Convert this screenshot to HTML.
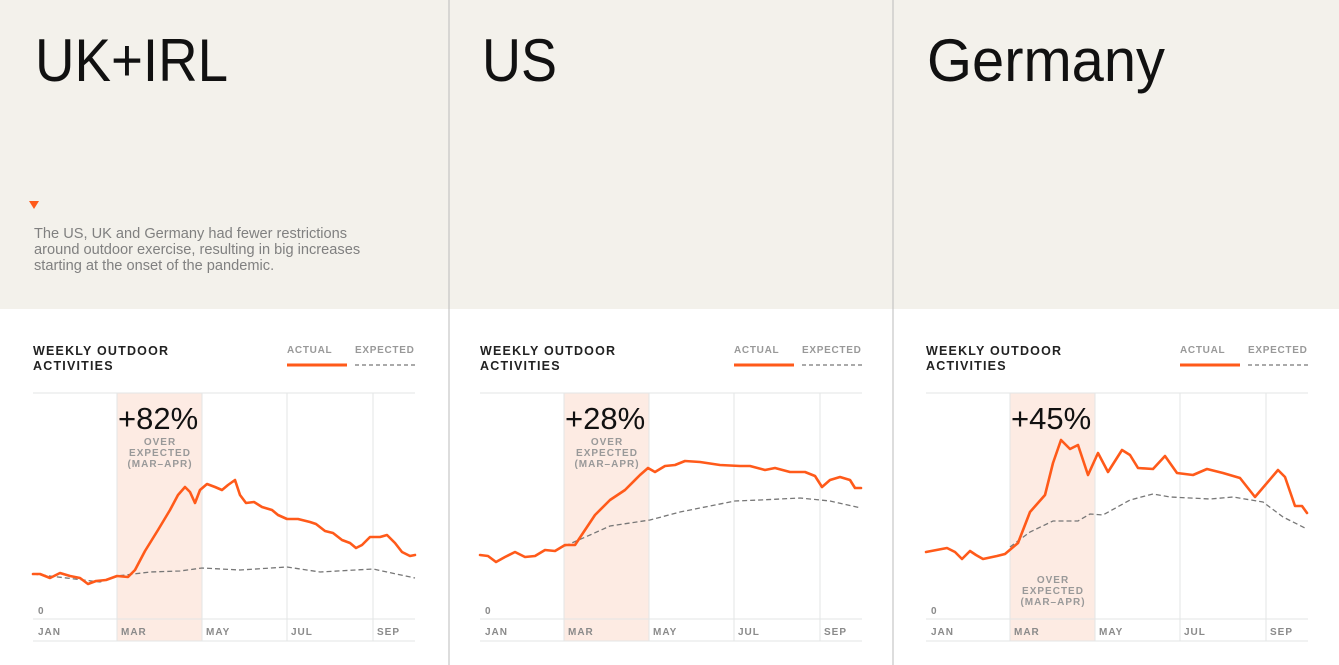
<!DOCTYPE html>
<html><head><meta charset="utf-8"><style>
html,body{margin:0;padding:0;background:#fff;}
svg{display:block;font-family:"Liberation Sans",sans-serif;}
.t{font-size:60px;fill:#111;}
.d{font-size:14.6px;fill:#808080;}
.h{font-size:12.5px;font-weight:bold;fill:#222;letter-spacing:1.2px;}
.lg{font-size:10px;fill:#999;letter-spacing:0.7px;font-weight:bold;}
.ax{font-size:10px;fill:#8a8a8a;letter-spacing:1px;font-weight:bold;}
.p{font-size:31px;fill:#111;}
.s{font-size:10px;fill:#999;letter-spacing:1px;font-weight:bold;}
.g{stroke:#e3e6e6;stroke-width:1;}
.a{fill:none;stroke:#ff5a1a;stroke-width:2.6;stroke-linejoin:round;stroke-linecap:round;}
.e{fill:none;stroke:#777;stroke-width:1.3;stroke-dasharray:5 3;}
</style></head><body>
<svg width="1339" height="665" viewBox="0 0 1339 665">
<rect x="0" y="0" width="1339" height="309" fill="#f3f1eb"/>
<line x1="449" y1="0" x2="449" y2="665" stroke="#bbb"/>
<line x1="893" y1="0" x2="893" y2="665" stroke="#bbb"/>
<text class="t" x="35" y="81" textLength="193" lengthAdjust="spacingAndGlyphs">UK+IRL</text>
<text class="t" x="482" y="81" textLength="75" lengthAdjust="spacingAndGlyphs">US</text>
<text class="t" x="927" y="81" textLength="238" lengthAdjust="spacingAndGlyphs">Germany</text>
<polygon points="29,201 39,201 34,209" fill="#ff5a1a"/>
<text class="d" x="34" y="238">The US, UK and Germany had fewer restrictions</text>
<text class="d" x="34" y="254">around outdoor exercise, resulting in big increases</text>
<text class="d" x="34" y="270">starting at the onset of the pandemic.</text>

<g id="p1">
<rect x="117" y="393" width="85" height="248" fill="#fdebe3"/>
<line class="g" x1="33" y1="393" x2="415" y2="393"/>
<line class="g" x1="33" y1="619" x2="415" y2="619"/>
<line class="g" x1="33" y1="641" x2="415" y2="641"/>
<line class="g" x1="117" y1="393" x2="117" y2="641"/>
<line class="g" x1="202" y1="393" x2="202" y2="641"/>
<line class="g" x1="287" y1="393" x2="287" y2="641"/>
<line class="g" x1="373" y1="393" x2="373" y2="641"/>
<text class="h" x="33" y="355">WEEKLY OUTDOOR</text>
<text class="h" x="33" y="370">ACTIVITIES</text>
<text class="lg" x="287" y="353">ACTUAL</text>
<text class="lg" x="355" y="353">EXPECTED</text>
<line x1="287" y1="365" x2="347" y2="365" stroke="#ff5a1a" stroke-width="3"/>
<line x1="355" y1="365" x2="415" y2="365" stroke="#777" stroke-width="1.3" stroke-dasharray="4 3"/>
<text class="ax" x="38" y="614">0</text>
<text class="ax" x="38" y="635">JAN</text>
<text class="ax" x="121" y="635">MAR</text>
<text class="ax" x="206" y="635">MAY</text>
<text class="ax" x="291" y="635">JUL</text>
<text class="ax" x="377" y="635">SEP</text>
</g>
<use href="#p1" x="447"/>
<use href="#p1" x="893"/>

<text class="p" x="118" y="429">+82%</text>
<text class="s" x="160" y="445" text-anchor="middle">OVER</text>
<text class="s" x="160" y="456" text-anchor="middle">EXPECTED</text>
<text class="s" x="160" y="467" text-anchor="middle">(MAR–APR)</text>

<text class="p" x="565" y="429">+28%</text>
<text class="s" x="607" y="445" text-anchor="middle">OVER</text>
<text class="s" x="607" y="456" text-anchor="middle">EXPECTED</text>
<text class="s" x="607" y="467" text-anchor="middle">(MAR–APR)</text>

<text class="p" x="1011" y="429">+45%</text>
<text class="s" x="1053" y="583" text-anchor="middle">OVER</text>
<text class="s" x="1053" y="594" text-anchor="middle">EXPECTED</text>
<text class="s" x="1053" y="605" text-anchor="middle">(MAR–APR)</text>

<polyline class="e" points="33,574 100,582 117,576 150,572 180,571 202,568 240,570 287,567 320,572 373,569 415,578"/>
<polyline class="a" points="33,574 40,574 50,578 60,573 70,576 80,578 88,584 96,581 106,580 117,576 128,577 135,570 145,551 158,530 170,510 178,495 185,487 190,492 195,503 200,490 207,484 215,487 222,490 228,485 235,480 240,495 246,503 254,502 262,507 272,510 278,515 287,519 298,519 310,522 316,524 325,531 333,533 342,540 350,543 356,548 362,545 370,537 380,537 387,535 395,543 402,552 410,556 415,555"/>
<polyline class="e" points="565,546 590,535 610,526 650,520 680,512 710,506 735,501 760,500 800,498 830,501 861,508"/>
<polyline class="a" points="480,555 488,556 496,562 505,557 515,552 525,557 535,556 545,550 555,551 565,545 575,545 585,530 595,515 610,500 625,490 640,475 648,468 655,472 665,466 675,465 685,461 700,462 720,465 740,466 750,466 765,470 775,468 790,472 805,472 815,476 822,487 830,480 840,477 850,480 855,488 861,488"/>
<polyline class="e" points="1010,547 1030,532 1053,521 1078,521 1090,514 1103,515 1130,500 1153,494 1170,497 1210,499 1233,497 1263,502 1283,517 1307,529"/>
<polyline class="a" points="926,552 947,548 955,552 962,559 970,551 976,555 983,559 997,556 1005,554 1018,543 1030,512 1045,495 1053,463 1061,440 1070,449 1078,445 1088,475 1098,453 1108,472 1122,450 1130,455 1138,468 1153,469 1165,456 1177,473 1193,475 1207,469 1223,473 1240,478 1255,497 1278,470 1285,477 1295,506 1302,506 1307,513"/>
</svg>
</body></html>
